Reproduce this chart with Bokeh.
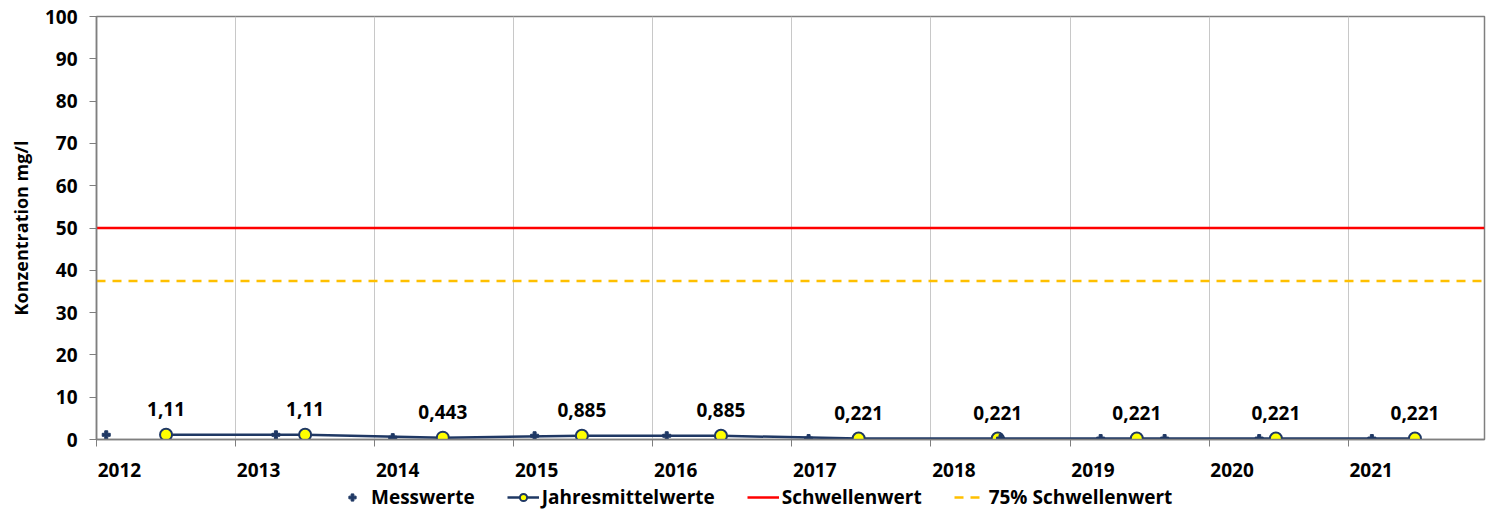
from bokeh.plotting import figure
from bokeh.layouts import column
from bokeh.models import (FixedTicker, Range1d, Legend, LegendItem, ColumnDataSource)
from bokeh.core.properties import value
from bokeh.embed import file_html
from bokeh.resources import INLINE

# ---- data ----
years = [2012, 2013, 2014, 2015, 2016, 2017, 2018, 2019, 2020, 2021]
year_labels = ["2012", "2013", "2014", "2015", "2016", "2017", "2018", "2019", "2020", "2021"]

mess_x = [2012.07, 2013.29, 2014.13, 2015.15, 2016.10, 2017.12, 2018.50, 2019.22, 2019.68, 2020.36, 2021.17]
mess_y = [1.11, 1.11, 0.443, 0.885, 0.885, 0.221, 0.221, 0.221, 0.221, 0.221, 0.221]

mean_x = [2012.5, 2013.5, 2014.49, 2015.49, 2016.49, 2017.48, 2018.48, 2019.48, 2020.48, 2021.48]
mean_y = [1.11, 1.11, 0.443, 0.885, 0.885, 0.221, 0.221, 0.221, 0.221, 0.221]
mean_labels = ["1,11", "1,11", "0,443", "0,885", "0,885", "0,221", "0,221", "0,221", "0,221", "0,221"]

schwelle = 50
schwelle75 = 37.5

FONT = "Open Sans"
NAVY = "#1F3864"
RED = "#FF0000"
ORANGE = "#FFC000"
YELLOW = "#FFFF00"

X0, X1 = 2012.0, 2021.98

p = figure(width=1490, height=482, output_backend="svg", toolbar_location=None,
           x_range=Range1d(X0, X1), y_range=Range1d(0, 100),
           min_border_left=96, min_border_right=6, min_border_top=16, min_border_bottom=43)

p.outline_line_color = "#7F7F7F"
p.outline_line_width = 1.5

# x axis: labels offset to the right of year starts, minor ticks at year starts
label_offset = 0.165
p.xaxis.ticker = FixedTicker(ticks=[y + label_offset for y in years], minor_ticks=years)
p.xaxis.major_label_overrides = {y + label_offset: l for y, l in zip(years, year_labels)}
p.xaxis.major_tick_line_color = None
p.xaxis.minor_tick_line_color = "#7F7F7F"
p.xaxis.minor_tick_in = 0
p.xaxis.minor_tick_out = 7
p.xaxis.major_tick_in = 0
p.xaxis.major_tick_out = 0
p.xaxis.major_label_standoff = 16
p.xaxis.axis_line_color = "#7F7F7F"
p.xaxis.axis_line_width = 1.5

p.xgrid.ticker = FixedTicker(ticks=years[1:])
p.xgrid.grid_line_color = "#C8C8C8"
p.xgrid.grid_line_width = 1
p.ygrid.grid_line_color = None

p.yaxis.ticker = FixedTicker(ticks=list(range(0, 101, 10)))
p.yaxis.minor_tick_line_color = None
p.yaxis.major_tick_in = 0
p.yaxis.major_tick_out = 7
p.yaxis.major_tick_line_color = "#7F7F7F"
p.yaxis.axis_line_color = "#7F7F7F"
p.yaxis.axis_line_width = 1.5
p.yaxis.major_label_standoff = 12
p.yaxis.axis_label = "Konzentration mg/l"
p.yaxis.axis_label_standoff = 9

for ax in (p.xaxis, p.yaxis):
    ax.major_label_text_font = FONT
    ax.major_label_text_font_style = "bold"
    ax.major_label_text_font_size = "19px"
    ax.major_label_text_color = "black"
p.yaxis.axis_label_text_font = FONT
p.yaxis.axis_label_text_font_style = "bold"
p.yaxis.axis_label_text_font_size = "18px"
p.yaxis.axis_label_text_color = "black"

# thresholds
p.line([X0, X1], [schwelle, schwelle], line_color=RED, line_width=2.5)
p.line([X0, X1], [schwelle75, schwelle75], line_color=ORANGE, line_width=2.5, line_dash="9 7")

# mean line + circles
p.line(mean_x, mean_y, line_color=NAVY, line_width=2.5)
p.scatter(mean_x, mean_y, marker="circle", size=12, fill_color=YELLOW, line_color=NAVY, line_width=2)

# measured values
p.scatter(mess_x, mess_y, marker="plus", size=8, fill_color=NAVY, line_color=NAVY, line_width=1)

# data labels
src = ColumnDataSource(dict(x=mean_x, y=mean_y, t=mean_labels))
p.text(x="x", y="y", text="t", source=src, text_align="center", text_baseline="middle",
       y_offset=-26, text_font=value(FONT), text_font_style="bold", text_font_size="19px",
       text_color="black")

# ---- legend strip (separate small figure below, frame aligned with main plot) ----
lg = figure(width=1490, height=28, output_backend="svg", toolbar_location=None,
            x_range=Range1d(0, 1), y_range=Range1d(0, 1),
            min_border_left=96, min_border_right=6, min_border_top=0, min_border_bottom=0)
lg.axis.visible = False
lg.grid.visible = False
lg.outline_line_color = None

off = [-10, -9]
l_mess = lg.scatter(off, off, marker="plus", size=8, fill_color=NAVY, line_color=NAVY, line_width=1)
l_mean_line = lg.line(off, off, line_color=NAVY, line_width=2.5)
l_mean_pts = lg.scatter(off, off, marker="circle", size=12, fill_color=YELLOW, line_color=NAVY, line_width=2)
l_schw = lg.line(off, off, line_color=RED, line_width=2.5)
l_schw75 = lg.line(off, off, line_color=ORANGE, line_width=2.5, line_dash="9 7")

legend = Legend(items=[
    LegendItem(label="Messwerte", renderers=[l_mess]),
    LegendItem(label="Jahresmittelwerte", renderers=[l_mean_line, l_mean_pts]),
    LegendItem(label="Schwellenwert", renderers=[l_schw]),
    LegendItem(label="75% Schwellenwert", renderers=[l_schw75]),
], orientation="horizontal", location=(240, 0))
legend.label_text_font = FONT
legend.label_text_font_style = "bold"
legend.label_text_font_size = "19px"
legend.label_text_color = "black"
legend.border_line_color = None
legend.background_fill_alpha = 0
legend.glyph_width = 32
legend.glyph_height = 18
legend.label_standoff = 3
legend.spacing = 32
legend.padding = 1
legend.margin = 0
lg.add_layout(legend, "center")

layout = column(p, lg, spacing=0)
open("out.html", "w").write(file_html(layout, INLINE))
